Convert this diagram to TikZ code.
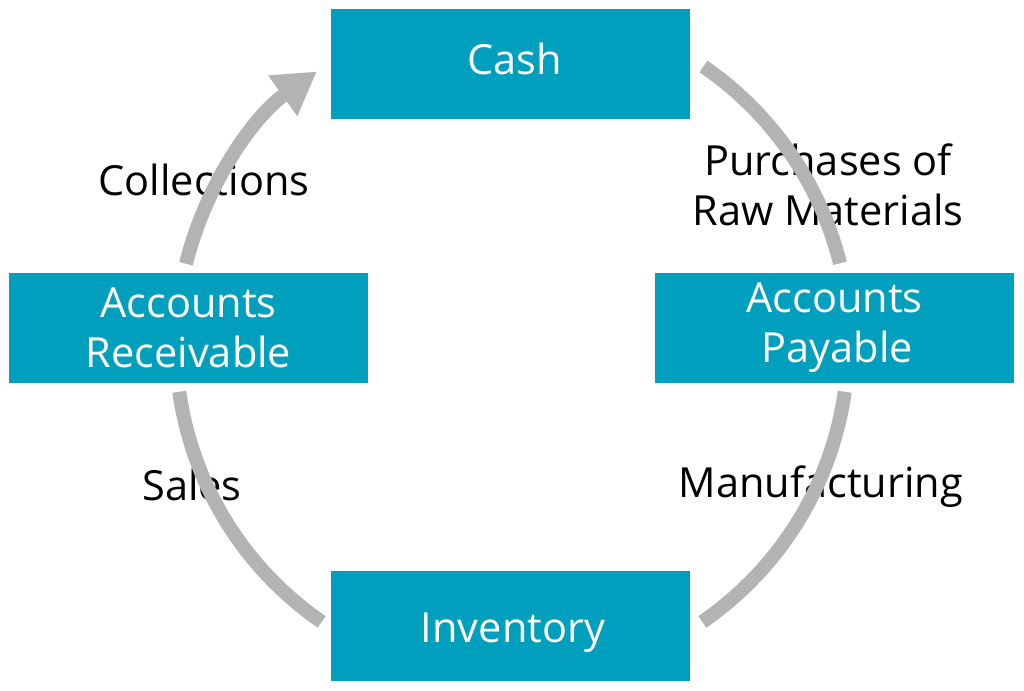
\documentclass[tikz,border=0pt]{standalone}
\usepackage{fontspec}
\setmainfont{Open Sans}
\usetikzlibrary{arrows.meta}
\definecolor{teal1}{HTML}{009FBE}
\definecolor{arcgray}{HTML}{B3B3B3}
\begin{document}
\begin{tikzpicture}[x=1pt,y=1pt,
  box/.style={fill=teal1,draw=none,minimum width=359pt,minimum height=110pt,inner sep=0pt,
    text=white,align=center,font=\fontsize{41.5}{50}\selectfont},
  lbl/.style={text=black,align=center,font=\fontsize{41.5}{50}\selectfont,inner sep=0pt},
  flow/.style={draw=arcgray,line width=14pt}]
\useasboundingbox (0,0) rectangle (1024,690);
\coordinate (c) at (512,345);
\node[box,text height=30pt,text depth=8pt] (cash) at (510.5,626) {\hspace*{8pt}Cash};
\node[box] (ar) at (188.5,362) {Accounts\\Receivable};
\node[box] (ap) at (834.5,362) {Accounts\\\hspace*{6pt}Payable};
\node[box,text height=32pt,text depth=0pt] (inv) at (510.5,64) {\hspace*{5pt}Inventory};
\node[lbl] (lc) at (204,510) {Collections};
\node[lbl] (lp) at (828,505) {Purchases of\\Raw Materials};
\node[lbl] (ls) at (192,205) {Sales};
\node[lbl] (lm) at (821,203) {Manufacturing};
\draw[flow] ([shift={(55.5:338)}]c) arc[start angle=55.5,end angle=14,radius=338];
\draw[flow] ([shift={(-8:336)}]c) arc[start angle=-8,end angle=-55.5,radius=336];
\draw[flow] ([shift={(235.5:336)}]c) arc[start angle=235.5,end angle=188,radius=336];
\draw[flow,-{Triangle[width=47pt,length=42pt]}] ([shift={(166:336)}]c) arc[start angle=166,end angle=125.5,radius=336];
\end{tikzpicture}
\end{document}
